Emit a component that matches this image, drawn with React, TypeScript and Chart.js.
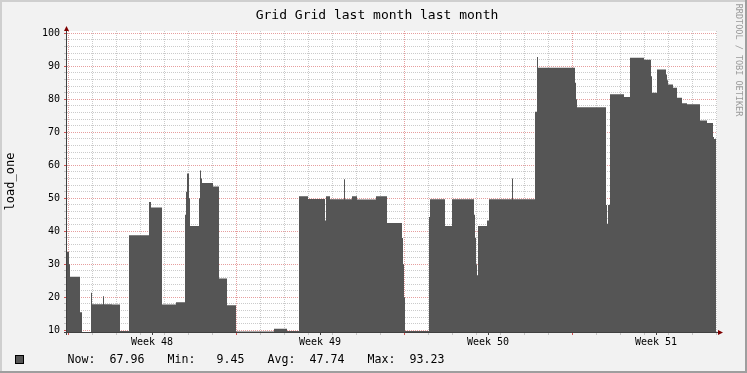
import React, { useEffect, useRef } from 'react';
import { Chart, registerables } from 'chart.js';

Chart.register(...registerables);

const TITLE = 'Grid Grid last month last month';
const Y_LABEL = 'load_one';
const WATERMARK = 'RRDTOOL / TOBI OETIKER';

// hours since start of Week 48; each value holds until the next entry
const hours = [
  -1, 1, 2, 12, 14, 23, 24, 35, 36, 44, 52, 61, 81, 83, 94, 108, 117, 118, 119, 121,
  122, 131, 132, 133, 134, 145, 151, 159, 168, 206, 219, 231, 240, 257, 258, 262, 276, 277, 284, 289,
  308, 319, 334, 335, 336, 337, 361, 362, 377, 384, 406, 407, 408, 409, 410, 419, 421, 444, 445, 467,
  469, 470, 507, 508, 509, 538, 539, 540, 542, 556, 562, 576, 583, 584, 589, 598, 599, 600, 605, 609,
  614, 619, 632, 639, 645, 646, 647, 648,
];
const load = [
  33.7, 30, 26.2, 15.5, 9.45, 21.4, 17.9, 20.3, 17.9, 17.8, 9.8, 38.8, 48.9, 47.2, 17.8, 18.5, 45, 52, 57.5, 50,
  41.6, 50, 58.4, 56, 54.6, 53.6, 25.7, 17.6, 9.6, 10.5, 9.8, 50.6, 49.8, 43.3, 50.6, 49.7, 55.8, 49.7, 50.6, 49.6,
  50.6, 42.5, 38, 30, 20, 9.8, 44.3, 49.7, 41.6, 49.7, 45, 38, 30, 26.7, 41.6, 43.3, 49.7, 56, 49.7, 76.2,
  92.8, 89.6, 85, 80, 77.6, 48, 42.3, 48, 81.5, 80.7, 92.6, 92.0, 87, 82, 89, 87.5, 85.8, 84.5, 83.5, 80.5,
  78.8, 78.5, 73.6, 72.8, 68.6, 68.0, 67.96, 67.96,
];

const weekLabels = ['Week 48', 'Week 49', 'Week 50', 'Week 51'];
const weekStarts = [0, 168, 336, 504];
const dayHours = Array.from({ length: 28 }, (_, i) => i * 24);
const yTickValues = Array.from({ length: 46 }, (_, i) => 10 + i * 2);

const legendLabels = ['Now:', 'Min:', 'Avg:', 'Max:'];
const legendValues = ['67.96', '9.45', '47.74', '93.23'];

const MONO = '"DejaVu Sans Mono", monospace';
const MINOR = 'rgba(140,140,140,0.45)';
const MAJOR = 'rgba(200,40,40,0.45)';
const NONE = 'rgba(0,0,0,0)';

const rrdPlugin = {
  id: 'rrd',
  beforeDraw(chart: any) {
    const { ctx, width, height, chartArea: a } = chart;
    ctx.save();
    ctx.fillStyle = '#f2f2f2';
    ctx.fillRect(0, 0, width, height);
    ctx.fillStyle = '#cfcfcf';
    ctx.fillRect(0, 0, width, 2);
    ctx.fillRect(0, 0, 2, height);
    ctx.fillStyle = '#9e9e9e';
    ctx.fillRect(0, height - 2, width, 2);
    ctx.fillRect(width - 2, 0, 2, height);
    ctx.fillStyle = '#ffffff';
    ctx.fillRect(a.left, a.top, a.right - a.left, a.bottom - a.top);
    ctx.restore();
  },
  afterDraw(chart: any) {
    const { ctx, chartArea: a } = chart;
    ctx.save();
    // axes
    ctx.strokeStyle = '#404040';
    ctx.lineWidth = 1;
    ctx.beginPath();
    ctx.moveTo(a.left - 0.5, a.bottom + 3);
    ctx.lineTo(a.left - 0.5, a.top - 4);
    ctx.moveTo(a.left - 3, a.bottom + 0.5);
    ctx.lineTo(a.right + 1, a.bottom + 0.5);
    ctx.stroke();
    ctx.fillStyle = '#7f0000';
    ctx.beginPath();
    ctx.moveTo(a.left - 3, a.top);
    ctx.lineTo(a.left + 2, a.top);
    ctx.lineTo(a.left - 0.5, a.top - 5);
    ctx.closePath();
    ctx.fill();
    ctx.beginPath();
    ctx.moveTo(a.right + 1, a.bottom - 2);
    ctx.lineTo(a.right + 1, a.bottom + 3);
    ctx.lineTo(a.right + 6, a.bottom + 0.5);
    ctx.closePath();
    ctx.fill();

    // title
    ctx.fillStyle = '#000';
    ctx.font = `13px ${MONO}`;
    ctx.textAlign = 'center';
    ctx.textBaseline = 'alphabetic';
    ctx.fillText(TITLE, 377, 19);

    // y label
    ctx.save();
    ctx.translate(14, 181.5);
    ctx.rotate(-Math.PI / 2);
    ctx.font = `12px ${MONO}`;
    ctx.fillText(Y_LABEL, 0, 0);
    ctx.restore();

    // watermark
    ctx.save();
    ctx.translate(736, 60);
    ctx.rotate(Math.PI / 2);
    ctx.font = `8.5px ${MONO}`;
    ctx.fillStyle = '#9a9a9a';
    ctx.fillText(WATERMARK, 0, 0);
    ctx.restore();

    // legend
    ctx.fillStyle = '#555555';
    ctx.fillRect(15, 355, 9, 9);
    ctx.strokeStyle = '#000';
    ctx.strokeRect(15.5, 355.5, 8, 8);
    ctx.fillStyle = '#000';
    ctx.font = `11.6px ${MONO}`;
    legendLabels.forEach((lab, i) => {
      ctx.textAlign = 'left';
      ctx.fillText(lab, 67.5 + i * 100, 363);
      ctx.textAlign = 'right';
      ctx.fillText(legendValues[i], 144.5 + i * 100, 363);
    });
    ctx.restore();
  },
};

export default function App() {
  const ref = useRef<HTMLCanvasElement | null>(null);

  useEffect(() => {
    document.body.style.margin = '0';
    const canvas = ref.current;
    if (!canvas) return;
    const mids = weekStarts.map((w) => w + 84);
    const xTickValues = [...dayHours, ...mids].sort((p, q) => p - q);

    const chart = new Chart(canvas, {
      type: 'line',
      data: {
        datasets: [
          {
            data: hours.map((h, i) => ({ x: h, y: load[i] })),
            stepped: true,
            fill: 'start',
            backgroundColor: '#555555',
            borderColor: NONE,
            borderWidth: 0,
            pointRadius: 0,
          },
        ],
      },
      plugins: [rrdPlugin],
      options: {
        responsive: false,
        animation: false,
        events: [],
        layout: { padding: { top: 31, left: 0, right: 30, bottom: 0 } },
        plugins: { legend: { display: false }, tooltip: { enabled: false }, title: { display: false } },
        scales: {
          x: {
            type: 'linear',
            min: -1,
            max: 649,
            z: 1,
            afterFit: (s: any) => {
              s.height = 41;
            },
            afterBuildTicks: (s: any) => {
              s.ticks = xTickValues.map((v) => ({ value: v }));
            },
            border: { display: false, dash: [1, 1] },
            grid: {
              lineWidth: 1,
              tickLength: 3,
              color: (c: any) => {
                const v = c.tick ? c.tick.value : -1;
                if (v % 168 === 0) return MAJOR;
                if (v % 24 === 0) return MINOR;
                return NONE;
              },
              tickColor: (c: any) => {
                const v = c.tick ? c.tick.value : -1;
                if (v % 168 === 0) return 'rgba(200,40,40,0.8)';
                if (v % 24 === 0) return MINOR;
                return '#404040';
              },
            },
            ticks: {
              autoSkip: false,
              maxRotation: 0,
              minRotation: 0,
              padding: 1,
              color: '#000',
              font: { family: 'DejaVu Sans Mono', size: 10 },
              callback: (v: any) => {
                const k = weekStarts.findIndex((w) => w + 84 === v);
                return k >= 0 ? weekLabels[k] : '';
              },
            },
          },
          y: {
            type: 'linear',
            min: 9.48,
            max: 100.7,
            z: 1,
            afterFit: (s: any) => {
              s.width = 67;
            },
            afterBuildTicks: (s: any) => {
              s.ticks = yTickValues.map((v) => ({ value: v }));
            },
            border: { display: false, dash: [1, 1] },
            grid: {
              lineWidth: 1,
              tickLength: 3,
              color: (c: any) => {
                const v = c.tick ? c.tick.value : 1;
                return v % 10 === 0 ? MAJOR : MINOR;
              },
              tickColor: (c: any) => {
                const v = c.tick ? c.tick.value : 1;
                return v % 10 === 0 ? 'rgba(200,40,40,0.8)' : MINOR;
              },
            },
            ticks: {
              autoSkip: false,
              padding: 4,
              color: '#000',
              font: { family: 'DejaVu Sans Mono', size: 10 },
              callback: (v: any) => (v % 10 === 0 ? String(v) : ''),
            },
          },
        },
      },
    });
    return () => chart.destroy();
  }, []);

  return (
    <div style={{ width: 747, height: 373 }}>
      <canvas ref={ref} width={747} height={373} style={{ display: 'block' }} />
    </div>
  );
}
